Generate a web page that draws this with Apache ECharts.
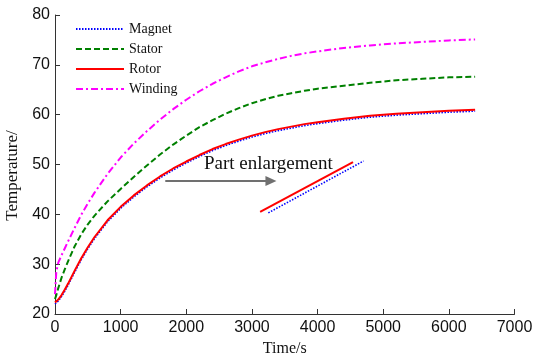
<!DOCTYPE html>
<html>
<head>
<meta charset="utf-8">
<script src="https://cdn.jsdelivr.net/npm/echarts@6/dist/echarts.min.js"></script>
<style>
  html, body { margin: 0; padding: 0; background: #fff; }
  #main { width: 534px; height: 358px; }
</style>
</head>
<body>
<div id="main"></div>
<script>
// time samples (s)
var timeSec = [0, 20, 50, 100, 150, 200, 300, 400, 500, 600, 800, 1000, 1200, 1400, 1600, 1800, 2000, 2200, 2400, 2600, 2800, 3000, 3200, 3400, 3600, 3800, 4000, 4400, 4800, 5200, 5600, 6000, 6400];
// temperatures
var magnet  = [22.0, 22.2, 22.6, 23.5, 24.6, 25.8, 28.4, 30.9, 33.1, 35.1, 38.5, 41.2, 43.5, 45.5, 47.3, 48.9, 50.3, 51.6, 52.8, 53.8, 54.7, 55.5, 56.2, 56.8, 57.3, 57.8, 58.2, 58.9, 59.5, 59.9, 60.2, 60.5, 60.7];
var stator  = [23.0, 23.8, 25.2, 27.3, 29.0, 30.6, 33.6, 36.0, 38.0, 39.7, 42.6, 45.1, 47.5, 49.8, 52.0, 54.0, 55.8, 57.5, 58.9, 60.2, 61.3, 62.3, 63.1, 63.8, 64.3, 64.8, 65.2, 65.8, 66.4, 66.9, 67.2, 67.5, 67.6];
var rotor   = [22.3, 22.5, 22.9, 23.8, 24.9, 26.1, 28.7, 31.2, 33.4, 35.4, 38.8, 41.5, 43.8, 45.8, 47.6, 49.2, 50.6, 51.9, 53.1, 54.1, 55.0, 55.8, 56.5, 57.1, 57.6, 58.1, 58.5, 59.2, 59.8, 60.2, 60.5, 60.8, 61.0];
var winding = [24.0, 28.5, 30.3, 31.8, 33.2, 34.6, 37.3, 39.9, 42.2, 44.3, 48.1, 51.4, 54.2, 56.7, 59.0, 61.1, 63.0, 64.7, 66.2, 67.5, 68.7, 69.7, 70.5, 71.2, 71.8, 72.3, 72.7, 73.4, 73.9, 74.3, 74.6, 74.9, 75.1];
// part enlargement segments
var zoomRotor  = [[3125, 40.5], [4540, 50.5]];
var zoomMagnet = [[3250, 40.3], [4700, 50.7]];
var arrowFrom = [1680, 46.7];
var arrowTo   = [3290, 46.7];
var noteText = 'Part enlargement';
var notePos  = [3250, 50.0];

var names = ['Magnet', 'Stator', 'Rotor', 'Winding'];

function pairs (vals) {
    var out = [];
    for (var i = 0; i < timeSec.length; i++) {
        out.push([timeSec[i], vals[i]]);
    }
    return out;
}

var serif = '"Liberation Serif", "Times New Roman", serif';
var sans = '"Liberation Sans", Arial, sans-serif';

var chart = echarts.init(document.getElementById('main'));
var option = {
    animation: false,
    grid: { left: 55, right: 19.5, top: 15, bottom: 44, outerBoundsMode: 'none', containLabel: false },
    legend: {
        data: names,
        orient: 'vertical',
        left: 70,
        top: 17,
        itemWidth: 48,
        itemHeight: 14,
        itemGap: 6,
        itemStyle: { opacity: 0 },
        textStyle: { fontFamily: serif, fontSize: 14, color: '#111' }
    },
    xAxis: {
        type: 'value',
        min: 0,
        max: 7000,
        interval: 1000,
        name: 'Time/s',
        nameLocation: 'middle',
        nameGap: 27,
        nameTextStyle: { fontFamily: serif, fontSize: 16, color: '#111' },
        axisLine: { lineStyle: { color: '#333' } },
        axisTick: { inside: true, length: 5, lineStyle: { color: '#333' } },
        axisLabel: { fontFamily: sans, fontSize: 16, color: '#111', margin: 6, formatter: function (v) { return String(v); } },
        splitLine: { show: false }
    },
    yAxis: {
        type: 'value',
        min: 20,
        max: 80,
        interval: 10,
        name: 'Temperature/',
        nameLocation: 'middle',
        nameGap: 28,
        nameTextStyle: { fontFamily: serif, fontSize: 17, color: '#111', padding: [0, 22, 0, 0] },
        axisLine: { show: true, lineStyle: { color: '#333' } },
        axisTick: { show: true, inside: true, length: 5, lineStyle: { color: '#333' } },
        axisLabel: { fontFamily: sans, fontSize: 16, color: '#111', margin: 5 },
        splitLine: { show: false }
    },
    series: [
        {
            name: 'Magnet', type: 'line', symbol: 'none',
            data: pairs(magnet),
            lineStyle: { color: '#0000ff', width: 1.6, type: [1.5, 1.5] },
            itemStyle: { color: '#0000ff' }
        },
        {
            name: 'Stator', type: 'line', symbol: 'none',
            data: pairs(stator),
            lineStyle: { color: '#008000', width: 2, type: [6, 3] },
            itemStyle: { color: '#008000' }
        },
        {
            name: 'Rotor', type: 'line', symbol: 'none',
            data: pairs(rotor),
            lineStyle: { color: '#ff0000', width: 2, type: 'solid' },
            itemStyle: { color: '#ff0000' }
        },
        {
            name: 'Winding', type: 'line', symbol: 'none',
            data: pairs(winding),
            lineStyle: { color: '#ff00ff', width: 2, type: [7, 3, 2, 3] },
            itemStyle: { color: '#ff00ff' }
        },
        {
            name: 'zoomMagnet', type: 'line', symbol: 'none',
            data: zoomMagnet,
            lineStyle: { color: '#0000ff', width: 1.6, type: [1.5, 1.5] }
        },
        {
            name: 'zoomRotor', type: 'line', symbol: 'none',
            data: zoomRotor,
            lineStyle: { color: '#ff0000', width: 2 },
            markLine: {
                silent: true,
                symbol: ['none', 'triangle'],
                symbolSize: [10, 11],
                label: { show: false },
                lineStyle: { color: '#707070', width: 2, type: 'solid' },
                itemStyle: { color: '#000' },
                data: [[{ coord: arrowFrom }, { coord: arrowTo }]]
            }
        }
    ]
};
chart.setOption(option);

var p = chart.convertToPixel({ gridIndex: 0 }, notePos);
chart.setOption({
    graphic: [{
        type: 'text',
        x: p[0],
        y: p[1],
        style: {
            text: noteText,
            font: '19px ' + serif,
            fill: '#111',
            align: 'center',
            verticalAlign: 'middle'
        }
    }]
});
</script>
</body>
</html>
